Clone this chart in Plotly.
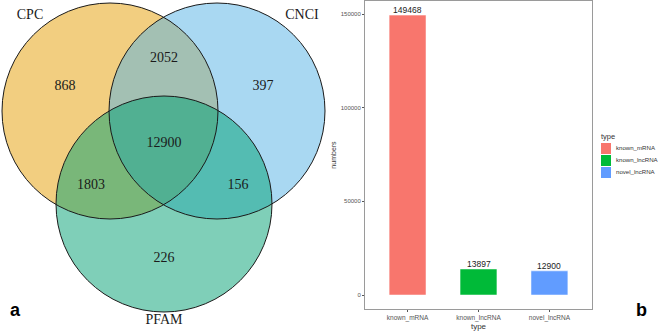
import plotly.graph_objects as go

# ---- Venn data ----
set_names = ["CPC", "CNCI", "PFAM"]
set_colors = ["#E59D01", "#53B1E5", "#009F71"]
region_labels = ["CPC only", "CPC&CNCI", "CNCI only", "all", "CPC&PFAM", "CNCI&PFAM", "PFAM only"]
region_counts = [868, 2052, 397, 12900, 1803, 156, 226]

# ---- Bar data ----
categories = ["known_mRNA", "known_lncRNA", "novel_lncRNA"]
numbers = [149468, 13897, 12900]
bar_colors = ["#F8766D", "#00BA38", "#619CFF"]
y_ticks = [0, 50000, 100000, 150000]

W, H = 659, 331
fig = go.Figure()

# Venn geometry (in pixel-like units of the venn axes)
centers = [(110, 111), (217, 111), (164, 204)]
radius = 108
label_pos = [(30, 15), (302, 15), (164, 320)]
region_pos = [(65, 86), (164, 58), (263, 86), (164, 143), (91, 185), (238, 185), (164, 258)]

def rgba(hexc, a):
    h = hexc.lstrip("#")
    return "rgba(%d,%d,%d,%s)" % (int(h[0:2], 16), int(h[2:4], 16), int(h[4:6], 16), a)

shapes = []
for (cx, cy), col in zip(centers, set_colors):
    shapes.append(dict(type="circle", xref="x", yref="y",
                       x0=cx - radius, x1=cx + radius, y0=cy - radius, y1=cy + radius,
                       fillcolor=rgba(col, 0.5), line=dict(width=0), layer="below"))
for (cx, cy) in centers:
    shapes.append(dict(type="circle", xref="x", yref="y",
                       x0=cx - radius, x1=cx + radius, y0=cy - radius, y1=cy + radius,
                       fillcolor="rgba(0,0,0,0)", line=dict(color="#1a1a1a", width=1), layer="above"))

fig.add_trace(go.Scatter(x=[p[0] for p in region_pos], y=[p[1] for p in region_pos],
                         mode="text", text=[str(c) for c in region_counts],
                         textfont=dict(family="Liberation Serif", size=14, color="#1a1a1a"),
                         showlegend=False, hoverinfo="skip", xaxis="x", yaxis="y"))
fig.add_trace(go.Scatter(x=[p[0] for p in label_pos], y=[p[1] for p in label_pos],
                         mode="text", text=set_names,
                         textfont=dict(family="Liberation Serif", size=14, color="#1a1a1a"),
                         showlegend=False, hoverinfo="skip", xaxis="x", yaxis="y"))

# Bars
fig.add_trace(go.Bar(x=categories, y=numbers,
                     marker=dict(color=bar_colors, line=dict(color="white", width=0.5)),
                     width=0.52, showlegend=False, xaxis="x2", yaxis="y2"))

annotations = []
for cat, val in zip(categories, numbers):
    annotations.append(dict(text=str(val), x=cat, y=val, xref="x2", yref="y2",
                            yanchor="bottom", showarrow=False, yshift=-2,
                            font=dict(family="Liberation Sans", size=8.5, color="#222")))

# manual ggplot-style legend on a hidden pixel-unit axis (x3/y3)
leg_x, leg_y0, leg_step, key = 601, 143, 12, 10
leg_ys = [leg_y0 + i * leg_step for i in range(len(categories))]
for top, col in zip(leg_ys, bar_colors):
    shapes.append(dict(type="rect", xref="x3", yref="y3",
                       x0=leg_x, x1=leg_x + key, y0=top, y1=top + key + 1,
                       fillcolor=col, line=dict(width=0)))
fig.add_trace(go.Scatter(x=[leg_x + 15] * len(categories), y=[t + key / 2 + 0.5 for t in leg_ys],
                         mode="text", text=categories, textposition="middle right",
                         textfont=dict(family="Liberation Sans", size=6.1, color="#333"),
                         cliponaxis=False, showlegend=False, hoverinfo="skip",
                         xaxis="x3", yaxis="y3"))
fig.add_trace(go.Scatter(x=[leg_x], y=[137], mode="text", text=["type"],
                         textposition="middle right",
                         textfont=dict(family="Liberation Sans", size=7.5, color="#333"),
                         cliponaxis=False, showlegend=False, hoverinfo="skip",
                         xaxis="x3", yaxis="y3"))

annotations += [
    dict(text="<b>a</b>", x=8 / W, y=1 - 322 / H, xref="paper", yref="paper",
         showarrow=False, font=dict(family="Liberation Sans", size=18, color="black")),
    dict(text="<b>b</b>", x=649 / W, y=1 - 322 / H, xref="paper", yref="paper",
         showarrow=False, font=dict(family="Liberation Sans", size=18, color="black")),
]

ymin, ymax = -7473, 157000
fig.update_layout(
    width=W, height=H, margin=dict(l=0, r=0, t=0, b=0, autoexpand=False),
    paper_bgcolor="white", plot_bgcolor="rgba(0,0,0,0)",
    shapes=shapes, showlegend=False, annotations=annotations,
    xaxis=dict(domain=[0, 330 / W], range=[0, 330], visible=False, fixedrange=True),
    yaxis=dict(domain=[0, 1], range=[331, 0], visible=False, fixedrange=True),
    xaxis3=dict(domain=[595 / W, 1], range=[595, 659], visible=False, fixedrange=True, anchor="y3"),
    yaxis3=dict(domain=[0, 1], range=[331, 0], visible=False, fixedrange=True, anchor="x3"),
    xaxis2=dict(domain=[365 / W, 592 / W], anchor="y2", range=[-0.6, 2.6],
                showline=True, mirror=True, linecolor="#9a9a9a", linewidth=1,
                ticks="outside", ticklen=2, tickcolor="#555", showgrid=False,
                tickfont=dict(family="Liberation Sans", size=6.5, color="#555"),
                title=dict(text="type", font=dict(family="Liberation Sans", size=8, color="#333"), standoff=2)),
    yaxis2=dict(domain=[1 - 309 / H, 1 - 1 / H], anchor="x2", range=[ymin, ymax],
                showline=True, mirror=True, linecolor="#9a9a9a", linewidth=1,
                tickvals=y_ticks, ticktext=[str(t) for t in y_ticks],
                ticks="outside", ticklen=2, tickcolor="#555", showgrid=False, zeroline=False,
                tickfont=dict(family="Liberation Sans", size=6, color="#555"),
                title=dict(text="numbers", font=dict(family="Liberation Sans", size=7, color="#333"), standoff=3)),
)
fig.write_html("out.html")
